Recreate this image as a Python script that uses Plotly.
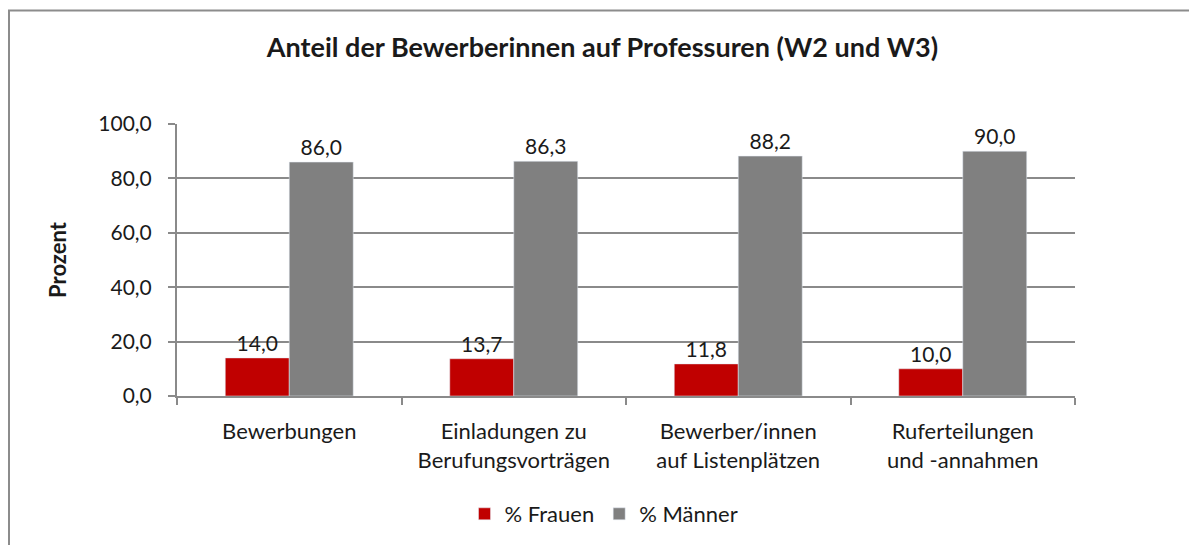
import plotly.graph_objects as go

categories = ["Bewerbungen", "Einladungen zu<br>Berufungsvorträgen",
              "Bewerber/innen<br>auf Listenplätzen", "Ruferteilungen<br>und -annahmen"]
frauen = [14.0, 13.7, 11.8, 10.0]
maenner = [86.0, 86.3, 88.2, 90.0]
y_ticks = [0, 20, 40, 60, 80, 100]

FONT = "Lato"
TXT = "#1a1a1a"
GRID = "#8a8a8a"

# page body has an 8px margin: figure is drawn at (8, 8)
W, H = 1189, 537
PX0, PX1, PY0, PY1 = 169, 1067, 116, 389   # plot area inside the figure

fig = go.Figure()
fig.add_trace(go.Bar(name="% Frauen", x=categories, y=frauen, marker_color="#C00000",
                     texttemplate="%{y:.1f}", textposition="outside", cliponaxis=False,
                     textfont=dict(size=21, color=TXT, family=FONT)))
fig.add_trace(go.Bar(name="% Männer", x=categories, y=maenner, marker_color="#808080",
                     texttemplate="%{y:.1f}", textposition="outside", cliponaxis=False,
                     textfont=dict(size=21, color=TXT, family=FONT)))

pw, ph = PX1 - PX0, PY1 - PY0
fig.update_layout(
    width=W, height=H,
    margin=dict(l=PX0, r=W - PX1, t=PY0, b=H - PY1, pad=0),
    paper_bgcolor="white", plot_bgcolor="white",
    separators=",.",
    font=dict(family=FONT, size=20, color=TXT),
    title=dict(text="<b>Anteil der Bewerberinnen auf Professuren (W2 und W3)</b>",
               x=0.5, xanchor="center", y=1 - 40 / H, yanchor="middle",
               font=dict(size=27, family=FONT, color=TXT)),
    barmode="group", bargap=0.43, bargroupgap=0,
    legend=dict(orientation="h", x=0.5 - 22 / pw, xanchor="center",
                y=(PY1 - 506) / ph, yanchor="middle", itemwidth=30,
                font=dict(size=22, family=FONT, color=TXT), traceorder="normal"),
    showlegend=True,
)
fig.update_xaxes(showline=True, linecolor=GRID, linewidth=2, ticks="outside",
                 tickson="boundaries", ticklen=7, tickcolor=GRID, tickwidth=2,
                 ticklabelstandoff=15,
                 tickfont=dict(size=22, family=FONT, color=TXT), showgrid=False)
fig.update_yaxes(range=[0, 100], tickvals=y_ticks, tickformat=".1f", showline=True,
                 linecolor=GRID, linewidth=2, ticks="outside", ticklen=7, tickcolor=GRID,
                 tickwidth=2, showgrid=True, gridcolor=GRID, gridwidth=2,
                 ticklabelstandoff=12,
                 tickfont=dict(size=21, family=FONT, color=TXT),
                 title=dict(text="<b>Prozent</b>", standoff=26,
                            font=dict(size=22, family=FONT, color=TXT)),
                 zeroline=False)

# outer chart border (extends past the window at right/bottom)
fig.add_shape(type="rect", xref="paper", yref="paper",
              x0=(1 - PX0) / pw, x1=2, y0=-1, y1=(PY1 - 2) / ph,
              line=dict(color="#8c8c8c", width=2), layer="below")

fig.write_html("out.html")
